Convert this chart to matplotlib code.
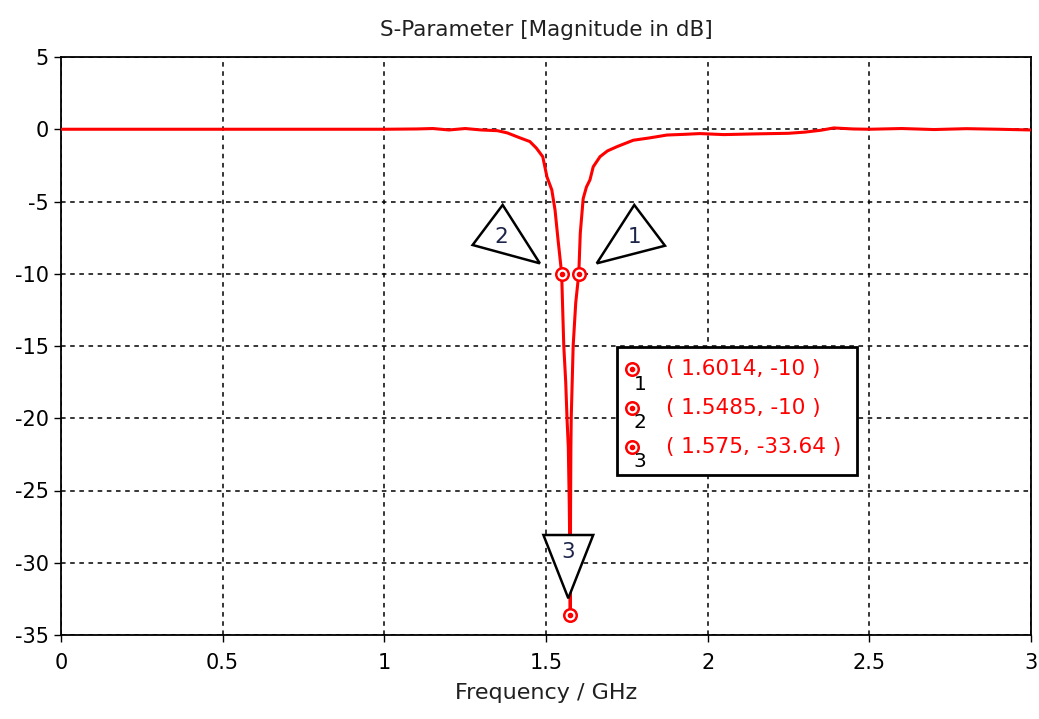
import matplotlib
matplotlib.use("Agg")
import matplotlib.pyplot as plt
from matplotlib.patches import Polygon, Rectangle

# ---- data ----
freq_ghz = [0.0, 0.5, 1.0, 1.1, 1.15, 1.2, 1.25, 1.3, 1.35, 1.38, 1.42, 1.45,
            1.47, 1.49, 1.503, 1.518, 1.528, 1.537, 1.5485, 1.551, 1.555, 1.561,
            1.565, 1.569, 1.572, 1.574, 1.575, 1.5755, 1.576, 1.577, 1.578, 1.581,
            1.584, 1.592, 1.6014, 1.606, 1.615, 1.625, 1.636, 1.646, 1.667, 1.69,
            1.72, 1.77, 1.82, 1.874, 1.93, 1.976, 2.05, 2.15, 2.25, 2.3, 2.35,
            2.39, 2.45, 2.5, 2.6, 2.7, 2.8, 2.9, 3.0]
s11_db = [0.0, 0.0, 0.0, 0.02, 0.05, -0.05, 0.05, -0.05, -0.1, -0.25, -0.6, -0.85,
          -1.3, -1.9, -3.3, -4.2, -5.6, -7.6, -10.0, -12.0, -15.0, -17.5,
          -20.0, -22.0, -26.0, -30.0, -33.64, -30.0, -26.0, -22.0, -20.0, -17.5,
          -15.0, -12.0, -10.0, -7.2, -4.8, -4.0, -3.5, -2.6, -1.9, -1.5,
          -1.2, -0.76, -0.6, -0.4, -0.35, -0.3, -0.37, -0.32, -0.28, -0.2, -0.07,
          0.09, 0.02, 0.0, 0.05, -0.02, 0.04, 0.0, -0.05]

marker_ids = ["1", "2", "3"]
marker_f = [1.6014, 1.5485, 1.575]
marker_db = [-10.0, -10.0, -33.64]
marker_labels = ["( 1.6014, -10 )", "( 1.5485, -10 )", "( 1.575, -33.64 )"]

x_ticks = [0, 0.5, 1, 1.5, 2, 2.5, 3]
x_ticklabels = ["0", "0.5", "1", "1.5", "2", "2.5", "3"]
y_ticks = [5, 0, -5, -10, -15, -20, -25, -30, -35]

# triangle callouts (data coordinates) and label positions
tri_verts = {
    "1": [(1.773, -5.24), (1.868, -8.06), (1.657, -9.28)],
    "2": [(1.366, -5.24), (1.273, -8.01), (1.481, -9.28)],
    "3": [(1.492, -28.08), (1.646, -28.08), (1.569, -32.46)],
}
tri_text = {"1": (1.775, -7.46), "2": (1.363, -7.44), "3": (1.569, -29.23)}

plt.rcParams['font.family'] = ['DejaVu Sans']
plt.rcParams['axes.unicode_minus'] = False
fig = plt.figure(figsize=(10.39, 7.19), dpi=100)
ax = fig.add_axes([61/1039, 1 - 635/719, 970/1039, 578/719])

ax.plot(freq_ghz, s11_db, color='red', lw=2.2, solid_joinstyle='miter', zorder=3)

ax.set_xlim(0, 3)
ax.set_ylim(-35, 5)
ax.set_xticks(x_ticks)
ax.set_xticklabels(x_ticklabels)
ax.set_yticks(y_ticks)
ax.grid(True, color='black', linestyle=(0, (3, 3)), lw=1.1)
ax.set_axisbelow(True)
for s in ax.spines.values():
    s.set_linewidth(1.3)
    s.set_color('black')
ax.tick_params(direction='out', length=5, width=1, labelsize=15, colors='black')
ax.tick_params(axis='x', pad=8)
ax.tick_params(axis='y', pad=4)

ax.set_title("S-Parameter [Magnitude in dB]", fontsize=15.5, pad=15, color='#202020')
ax.set_xlabel("Frequency / GHz", fontsize=16, labelpad=7, color='#202020')

# triangles
for k in marker_ids:
    ax.add_patch(Polygon(tri_verts[k], closed=True, facecolor='white',
                         edgecolor='black', lw=1.8, zorder=5))
    tx, ty = tri_text[k]
    ax.text(tx, ty, k, ha='center', va='center', fontsize=15.5, color='#1c2448', zorder=6)

# markers
ax.plot(marker_f, marker_db, 'o', ms=9, mfc='white', mec='red', mew=1.8, zorder=7,
        clip_on=False)
ax.plot(marker_f, marker_db, 'o', ms=3, color='red', zorder=8, clip_on=False)

# legend box
bx0, bx1 = (616.7 - 61) / 970, (856.7 - 61) / 970
by0, by1 = (635 - 475) / 578, (635 - 346.7) / 578
ax.add_patch(Rectangle((bx0, by0), bx1 - bx0, by1 - by0, transform=ax.transAxes,
                       facecolor='white', edgecolor='black', lw=2.0, zorder=9))
row_y = [(635 - 369.3) / 578, (635 - 408) / 578, (635 - 446.7) / 578]
mx = (632.3 - 61) / 970
tx = (666 - 61) / 970
sx = (640 - 61) / 970
for i, k in enumerate(marker_ids):
    ax.plot([mx], [row_y[i]], 'o', ms=9, mfc='white', mec='red', mew=1.8,
            transform=ax.transAxes, zorder=10)
    ax.plot([mx], [row_y[i]], 'o', ms=3, color='red', transform=ax.transAxes, zorder=11)
    ax.text(tx, row_y[i], marker_labels[i], transform=ax.transAxes, ha='left',
            va='center', fontsize=15.5, color='red', zorder=11)
    ax.text(sx, row_y[i] - 15 / 578, k, transform=ax.transAxes, ha='center',
            va='center', fontsize=14.5, color='black', zorder=11)

fig.savefig("out.png", dpi=100)
